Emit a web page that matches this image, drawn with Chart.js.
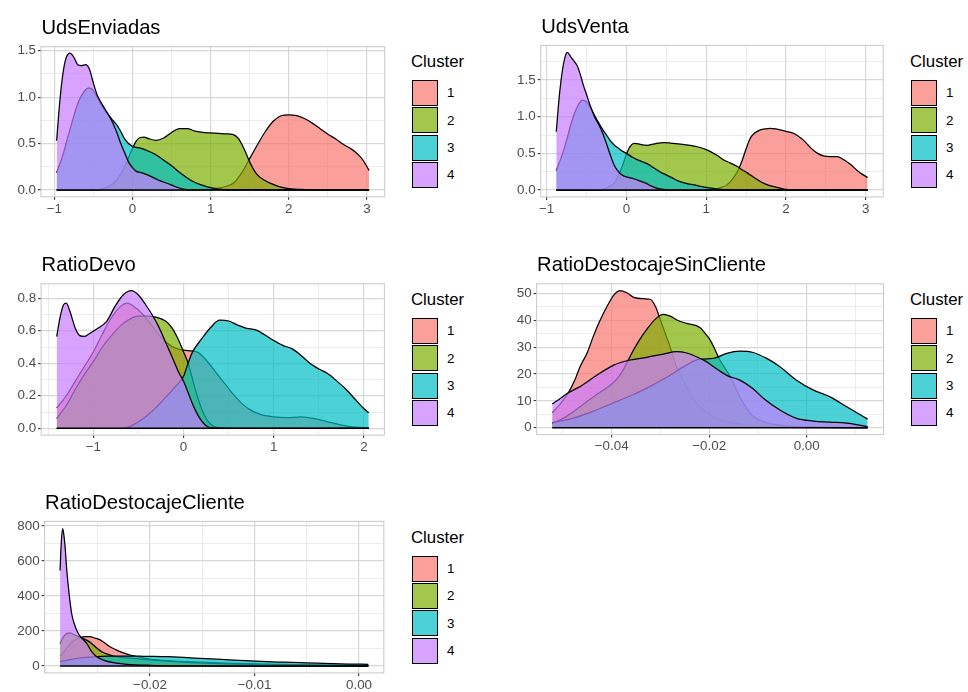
<!DOCTYPE html>
<html>
<head>
<meta charset="utf-8">
<script src="https://cdn.jsdelivr.net/npm/chart.js@4.4.0/dist/chart.umd.min.js"></script>
<style>
  body { margin: 0; background: #fff; }
  #page { position: relative; width: 968px; height: 692px; overflow: hidden; background: #fff; }
  .holder { position: absolute; }
  .txt { position: absolute; white-space: nowrap; color: #000; }
  .key { position: absolute; box-sizing: border-box; border: 1.3px solid #000; }
</style>
</head>
<body>
<div id="page"></div>
<script>
const FONT = '"Liberation Sans", Arial, sans-serif';
const TITLE_SIZE = 20.2, AXIS_SIZE = 13.4, LEG_TITLE_SIZE = 16.8, LEG_SIZE = 13.4;

const clusters = ['1', '2', '3', '4'];
const clusterFill = ['rgba(248,118,109,0.7)', 'rgba(124,174,0,0.7)', 'rgba(0,191,196,0.7)', 'rgba(199,124,255,0.7)'];

// ---- UdsEnviadas ----
const envXTicks = [-1, 0, 1, 2, 3];
const envXLabels = ['−1', '0', '1', '2', '3'];
const envXMinor = [-0.5, 0.5, 1.5, 2.5];
const envYTicks = [0, 0.5, 1, 1.5];
const envYLabels = ['0.0', '0.5', '1.0', '1.5'];
const envYMinor = [0.25, 0.75, 1.25];
const envC1 = [[-0.97,0],[0.8,0],[0.9,0.005],[1.0,0.01],[1.1,0.02],[1.2,0.04],[1.3,0.08],[1.4,0.19],[1.5,0.34],[1.6,0.49],[1.7,0.63],[1.8,0.74],[1.9,0.8],[2.0,0.81],[2.1,0.8],[2.2,0.77],[2.3,0.72],[2.4,0.66],[2.5,0.6],[2.6,0.55],[2.7,0.49],[2.8,0.44],[2.85,0.41],[2.9,0.37],[2.95,0.32],[3.0,0.25],[3.026,0.21]];
const envC2 = [[-0.97,0],[-0.5,0],[-0.4,0.01],[-0.3,0.04],[-0.2,0.11],[-0.1,0.25],[0,0.45],[0.05,0.53],[0.1,0.565],[0.15,0.57],[0.2,0.555],[0.3,0.535],[0.4,0.56],[0.5,0.62],[0.6,0.66],[0.7,0.66],[0.8,0.635],[0.9,0.62],[1.0,0.615],[1.1,0.61],[1.2,0.605],[1.28,0.6],[1.35,0.56],[1.4,0.49],[1.45,0.4],[1.5,0.3],[1.55,0.22],[1.6,0.16],[1.7,0.1],[1.8,0.06],[1.9,0.03],[2.0,0.015],[2.2,0.005],[2.5,0],[3.026,0]];
const envC3 = [[-0.97,0.186],[-0.9,0.35],[-0.8,0.65],[-0.7,0.93],[-0.6,1.08],[-0.55,1.1],[-0.5,1.07],[-0.45,1.0],[-0.4,0.92],[-0.35,0.855],[-0.3,0.8],[-0.25,0.75],[-0.2,0.7],[-0.15,0.63],[-0.1,0.55],[-0.05,0.5],[0,0.47],[0.05,0.46],[0.1,0.45],[0.2,0.42],[0.3,0.38],[0.4,0.32],[0.5,0.26],[0.6,0.19],[0.7,0.13],[0.8,0.08],[0.9,0.05],[1.0,0.025],[1.1,0.01],[1.3,0],[3.026,0]];
const envC4 = [[-0.97,0.53],[-0.93,0.95],[-0.89,1.25],[-0.85,1.42],[-0.8,1.475],[-0.75,1.43],[-0.7,1.35],[-0.65,1.34],[-0.6,1.35],[-0.55,1.3],[-0.5,1.15],[-0.45,1.02],[-0.4,0.94],[-0.35,0.87],[-0.3,0.8],[-0.25,0.72],[-0.2,0.62],[-0.15,0.5],[-0.1,0.4],[-0.05,0.3],[0,0.24],[0.05,0.2],[0.1,0.19],[0.2,0.16],[0.3,0.12],[0.35,0.1],[0.45,0.07],[0.55,0.035],[0.65,0.01],[0.8,0],[3.026,0]];

// ---- UdsVenta ----
const venXTicks = [-1, 0, 1, 2, 3];
const venXLabels = ['−1', '0', '1', '2', '3'];
const venXMinor = [-0.5, 0.5, 1.5, 2.5];
const venYTicks = [0, 0.5, 1, 1.5];
const venYLabels = ['0.0', '0.5', '1.0', '1.5'];
const venYMinor = [0.25, 0.75, 1.25, 1.75];
const venC1 = [[-0.88,0],[1.0,0],[1.1,0.01],[1.2,0.04],[1.26,0.07],[1.33,0.15],[1.4,0.27],[1.45,0.4],[1.5,0.56],[1.55,0.7],[1.6,0.77],[1.68,0.82],[1.75,0.835],[1.8,0.84],[1.87,0.835],[1.93,0.82],[2.0,0.8],[2.1,0.77],[2.16,0.73],[2.22,0.68],[2.28,0.61],[2.34,0.545],[2.4,0.5],[2.47,0.465],[2.55,0.455],[2.64,0.455],[2.7,0.43],[2.76,0.39],[2.82,0.34],[2.89,0.27],[2.95,0.22],[3.025,0.17]];
const venC2 = [[-0.88,0],[-0.4,0],[-0.3,0.01],[-0.24,0.03],[-0.15,0.1],[-0.11,0.18],[-0.05,0.33],[0,0.49],[0.05,0.6],[0.1,0.636],[0.15,0.63],[0.2,0.615],[0.26,0.61],[0.33,0.625],[0.4,0.64],[0.47,0.645],[0.55,0.64],[0.68,0.627],[0.8,0.61],[0.89,0.59],[1.0,0.55],[1.06,0.52],[1.14,0.47],[1.22,0.41],[1.3,0.37],[1.39,0.32],[1.46,0.27],[1.52,0.23],[1.6,0.17],[1.69,0.11],[1.77,0.07],[1.85,0.045],[1.93,0.025],[2.0,0.01],[2.2,0.002],[2.5,0],[3.025,0]];
const venC3 = [[-0.88,0.264],[-0.8,0.5],[-0.75,0.68],[-0.7,0.88],[-0.65,1.05],[-0.6,1.17],[-0.55,1.227],[-0.5,1.2],[-0.46,1.14],[-0.4,1.02],[-0.35,0.92],[-0.3,0.83],[-0.25,0.75],[-0.2,0.67],[-0.15,0.61],[-0.1,0.57],[-0.05,0.53],[0,0.5],[0.07,0.45],[0.14,0.41],[0.2,0.385],[0.26,0.36],[0.33,0.31],[0.39,0.27],[0.45,0.23],[0.51,0.2],[0.6,0.15],[0.68,0.11],[0.77,0.085],[0.85,0.07],[0.93,0.05],[1.0,0.036],[1.1,0.02],[1.17,0.01],[1.3,0.003],[1.5,0],[3.025,0]];
const venC4 = [[-0.88,0.795],[-0.84,1.3],[-0.8,1.65],[-0.76,1.85],[-0.74,1.877],[-0.7,1.82],[-0.66,1.76],[-0.62,1.7],[-0.58,1.58],[-0.54,1.43],[-0.5,1.3],[-0.46,1.17],[-0.4,1.0],[-0.35,0.9],[-0.3,0.78],[-0.25,0.63],[-0.2,0.47],[-0.15,0.33],[-0.1,0.25],[-0.05,0.2],[0,0.18],[0.1,0.15],[0.2,0.11],[0.25,0.09],[0.3,0.06],[0.4,0.02],[0.5,0.005],[0.6,0],[3.025,0]];

// ---- RatioDevo ----
const devXTicks = [-1, 0, 1, 2];
const devXLabels = ['−1', '0', '1', '2'];
const devXMinor = [-1.5, -0.5, 0.5, 1.5];
const devYTicks = [0, 0.2, 0.4, 0.6, 0.8];
const devYLabels = ['0.0', '0.2', '0.4', '0.6', '0.8'];
const devYMinor = [0.1, 0.3, 0.5, 0.7];
const devC1 = [[-1.406,0.125],[-1.3,0.2],[-1.2,0.29],[-1.1,0.38],[-1.0,0.47],[-0.9,0.58],[-0.8,0.68],[-0.7,0.75],[-0.62,0.77],[-0.55,0.75],[-0.45,0.7],[-0.35,0.63],[-0.25,0.56],[-0.15,0.51],[-0.05,0.485],[0.05,0.478],[0.15,0.47],[0.25,0.42],[0.35,0.35],[0.45,0.28],[0.55,0.21],[0.65,0.15],[0.75,0.11],[0.85,0.085],[1.0,0.07],[1.15,0.065],[1.3,0.07],[1.45,0.06],[1.6,0.04],[1.75,0.02],[1.9,0.007],[2.053,0.002]];
const devC2 = [[-1.406,0.06],[-1.3,0.14],[-1.2,0.24],[-1.1,0.33],[-1.0,0.41],[-0.9,0.5],[-0.8,0.57],[-0.7,0.63],[-0.6,0.67],[-0.5,0.69],[-0.4,0.69],[-0.3,0.683],[-0.2,0.66],[-0.13,0.62],[-0.07,0.56],[0,0.47],[0.05,0.4],[0.1,0.3],[0.15,0.2],[0.2,0.12],[0.25,0.06],[0.3,0.025],[0.37,0.005],[0.5,0],[2.053,0]];
const devC3 = [[-1.406,0],[-0.7,0],[-0.6,0.01],[-0.5,0.04],[-0.4,0.08],[-0.3,0.13],[-0.2,0.19],[-0.1,0.25],[0,0.32],[0.05,0.4],[0.1,0.47],[0.2,0.55],[0.3,0.62],[0.4,0.665],[0.5,0.66],[0.6,0.635],[0.7,0.615],[0.8,0.605],[0.9,0.575],[1.0,0.54],[1.1,0.51],[1.2,0.49],[1.3,0.45],[1.4,0.4],[1.5,0.365],[1.6,0.335],[1.7,0.29],[1.8,0.24],[1.9,0.18],[2.0,0.12],[2.053,0.095]];
const devC4 = [[-1.406,0.564],[-1.37,0.68],[-1.33,0.76],[-1.3,0.77],[-1.26,0.72],[-1.2,0.615],[-1.15,0.57],[-1.1,0.565],[-1.05,0.58],[-0.95,0.615],[-0.85,0.66],[-0.76,0.75],[-0.67,0.82],[-0.58,0.847],[-0.5,0.82],[-0.42,0.76],[-0.35,0.7],[-0.28,0.63],[-0.2,0.53],[-0.12,0.43],[-0.05,0.34],[0,0.29],[0.05,0.22],[0.1,0.15],[0.15,0.09],[0.2,0.045],[0.25,0.015],[0.3,0.003],[0.4,0],[2.053,0]];

// ---- RatioDestocajeSinCliente ----
const sinXTicks = [-0.04, -0.02, 0];
const sinXLabels = ['−0.04', '−0.02', '0.00'];
const sinXMinor = [-0.05, -0.03, -0.01, 0.01];
const sinYTicks = [0, 10, 20, 30, 40, 50];
const sinYLabels = ['0', '10', '20', '30', '40', '50'];
const sinYMinor = [5, 15, 25, 35, 45];
const sinC1 = [[-0.0522,5.6],[-0.0505,9],[-0.0489,13],[-0.0475,18],[-0.0465,22.7],[-0.045,28],[-0.0438,33.9],[-0.0425,39.5],[-0.041,45],[-0.0395,49.5],[-0.0383,51],[-0.037,50.3],[-0.0355,48.5],[-0.0335,48],[-0.0321,47.8],[-0.031,45],[-0.03,40],[-0.0294,37],[-0.0287,33.5],[-0.028,30],[-0.0267,22.7],[-0.0253,17.7],[-0.0239,12.8],[-0.0219,7.8],[-0.0191,4.1],[-0.0164,2.2],[-0.0123,1],[-0.0089,0.4],[-0.005,0.1],[0.0125,0]];
const sinC2 = [[-0.0522,1.5],[-0.049,4.5],[-0.046,8.5],[-0.043,12.5],[-0.0405,15.5],[-0.039,18],[-0.0378,21],[-0.0366,25.2],[-0.0355,29],[-0.0342,33],[-0.0328,36.6],[-0.031,40.5],[-0.0294,42.2],[-0.028,41.5],[-0.0265,40],[-0.0246,38.8],[-0.0219,37.3],[-0.0208,35],[-0.0198,32.6],[-0.0188,29],[-0.0178,25.2],[-0.0157,19],[-0.0137,11.5],[-0.0116,5.3],[-0.0089,2.2],[-0.0055,1],[-0.002,0.4],[0.0125,0]];
const sinC3 = [[-0.0522,1.9],[-0.048,3.5],[-0.044,6],[-0.04,9],[-0.036,12],[-0.032,15.5],[-0.028,19.5],[-0.025,23],[-0.022,25.5],[-0.0191,25.8],[-0.0164,27.7],[-0.0137,28.5],[-0.011,28],[-0.0082,25.8],[-0.0055,22.7],[-0.0021,17.7],[0.0014,14],[0.0048,11.5],[0.0082,7.8],[0.0125,3.2]];
const sinC4 = [[-0.0522,8.8],[-0.0505,11],[-0.0489,13],[-0.0465,15.3],[-0.043,19.6],[-0.0396,23.3],[-0.0362,25.2],[-0.0328,26.2],[-0.0294,27.4],[-0.0267,28.3],[-0.0246,27.8],[-0.0226,26.4],[-0.0205,24.5],[-0.0191,22.7],[-0.0164,19.5],[-0.0137,17.7],[-0.011,14.5],[-0.0089,11],[-0.0055,6.6],[-0.0021,3.5],[0.0014,2.5],[0.0048,2.1],[0.0082,1.7],[0.0125,0.4]];

// ---- RatioDestocajeCliente ----
const cliXTicks = [-0.02, -0.01, 0];
const cliXLabels = ['−0.02', '−0.01', '0.00'];
const cliXMinor = [-0.025, -0.015, -0.005];
const cliYTicks = [0, 200, 400, 600, 800];
const cliYLabels = ['0', '200', '400', '600', '800'];
const cliYMinor = [100, 300, 500, 700];
const cliC1 = [[-0.02861,58],[-0.0282,85],[-0.0278,115],[-0.0274,140],[-0.0267,162],[-0.0262,168],[-0.02574,168],[-0.0253,160],[-0.02478,149],[-0.0243,130],[-0.02383,110],[-0.02335,95],[-0.02287,82],[-0.0224,72],[-0.02191,63],[-0.02096,50],[-0.02,40],[-0.018,30],[-0.016,24],[-0.014,19],[-0.012,15],[-0.01,12],[-0.008,10],[-0.006,8],[-0.004,6],[-0.002,5],[0.00089,4]];
const cliC2 = [[-0.02861,128],[-0.0283,165],[-0.028,185],[-0.0277,190],[-0.0274,183],[-0.02695,171],[-0.0266,162],[-0.02622,152],[-0.0258,138],[-0.02542,120],[-0.0251,103],[-0.02478,88],[-0.02447,77],[-0.02415,69],[-0.02351,57],[-0.0228,50],[-0.022,45],[-0.021,40],[-0.02,35],[-0.018,27],[-0.016,20],[-0.014,15],[-0.012,11],[-0.01,8],[-0.007,5],[-0.004,3],[0.00089,1]];
const cliC3 = [[-0.02861,25],[-0.028,32],[-0.0275,38],[-0.027,44],[-0.026,50],[-0.025,54],[-0.024,56],[-0.023,57],[-0.022,57],[-0.021,56],[-0.02,55],[-0.0184,53],[-0.0168,49],[-0.0152,44],[-0.0136,39],[-0.012,34],[-0.0104,29],[-0.0088,25],[-0.0072,22],[-0.0056,19],[-0.004,16],[-0.0025,13],[-0.001,11],[0.00089,10]];
const cliC4 = [[-0.02861,545],[-0.0285,700],[-0.02836,785],[-0.02825,750],[-0.02813,682],[-0.02797,549],[-0.02775,415],[-0.0275,300],[-0.02727,244],[-0.02695,196],[-0.0267,171],[-0.02638,150],[-0.02606,130],[-0.02558,82],[-0.0251,53],[-0.02447,34],[-0.02351,19],[-0.02223,10],[-0.02,4],[-0.017,1],[-0.012,0],[0.00089,0]];

// panel boxes (plot area in page pixels) and axis limits
const panels = [
  { title: 'UdsEnviadas', box: [41, 46.7, 384.7, 196.8], xLim: [-1.17, 3.226], yLim: [-0.0735, 1.5435],
    xT: envXTicks, xL: envXLabels, xM: envXMinor, yT: envYTicks, yL: envYLabels, yM: envYMinor,
    series: [envC1, envC2, envC3, envC4], leg: [411, 68.3, 80] },
  { title: 'UdsVenta', box: [540.7, 45.4, 883.2, 196.9], xLim: [-1.075, 3.22], yLim: [-0.094, 1.972],
    xT: venXTicks, xL: venXLabels, xM: venXMinor, yT: venYTicks, yL: venYLabels, yM: venYMinor,
    series: [venC1, venC2, venC3, venC4], leg: [910, 68.3, 80] },
  { title: 'RatioDevo', box: [41.1, 283.8, 384.4, 435.1], xLim: [-1.579, 2.226], yLim: [-0.042, 0.889],
    xT: devXTicks, xL: devXLabels, xM: devXMinor, yT: devYTicks, yL: devYLabels, yM: devYMinor,
    series: [devC1, devC2, devC3, devC4], leg: [411, 306.3, 318] },
  { title: 'RatioDestocajeSinCliente', box: [536.6, 283.8, 883.5, 434.6], xLim: [-0.05541, 0.01575], yLim: [-2.55, 53.55],
    xT: sinXTicks, xL: sinXLabels, xM: sinXMinor, yT: sinYTicks, yL: sinYLabels, yM: sinYMinor,
    series: [sinC1, sinC2, sinC3, sinC4], leg: [910, 306.3, 318] },
  { title: 'RatioDestocajeCliente', box: [44.6, 521.4, 383.8, 672.9], xLim: [-0.03009, 0.00237], yLim: [-39.3, 826],
    xT: cliXTicks, xL: cliXLabels, xM: cliXMinor, yT: cliYTicks, yL: cliYLabels, yM: cliYMinor,
    series: [cliC1, cliC2, cliC3, cliC4], leg: [411, 544, 555.7] }
];

const page = document.getElementById('page');

// light grey frame round the plot area, drawn over the densities
const frame = {
  id: 'frame',
  afterDatasetsDraw(chart) {
    const a = chart.chartArea, c = chart.ctx;
    c.save();
    c.strokeStyle = '#cccccc';
    c.lineWidth = 1.1;
    c.strokeRect(a.left, a.top, a.right - a.left, a.bottom - a.top);
    c.restore();
  }
};

function text(str, left, baseline, size) {
  const d = document.createElement('div');
  d.className = 'txt';
  d.textContent = str;
  d.style.font = size + 'px ' + FONT;
  d.style.lineHeight = size + 'px';
  d.style.left = left + 'px';
  d.style.top = (baseline - 0.8465 * size) + 'px';
  page.appendChild(d);
}

function axis(lim, major, minor, labels, isX) {
  const isMajor = (ctx) => ctx.tick && major.includes(ctx.tick.value);
  return {
    type: 'linear',
    min: lim[0],
    max: lim[1],
    afterBuildTicks: (s) => { s.ticks = major.concat(minor).sort((a, b) => a - b).map(v => ({ value: v })); },
    afterFit: null,
    grid: {
      color: ctx => isMajor(ctx) ? '#d7d7d7' : '#e7e7e7',
      lineWidth: ctx => isMajor(ctx) ? 1.2 : 0.8,
      tickColor: ctx => isMajor(ctx) ? '#333333' : 'rgba(0,0,0,0)',
      tickWidth: 1.1,
      tickLength: 3,
      drawTicks: true
    },
    border: { display: false },
    ticks: {
      autoSkip: false,
      maxRotation: 0,
      minRotation: 0,
      padding: isX ? 1 : 2,
      color: '#4d4d4d',
      font: { family: FONT, size: AXIS_SIZE },
      callback: (v) => { const i = major.indexOf(v); return i < 0 ? '' : labels[i]; }
    }
  };
}

panels.forEach(p => {
  const [bl, bt, br, bb] = p.box;
  const cl = Math.floor(bl) - 46, ct = Math.floor(bt) - 10;
  const cw = Math.ceil(br) + 12 - cl, ch = Math.ceil(bb) + 28 - ct;
  const holder = document.createElement('div');
  holder.className = 'holder';
  holder.style.left = cl + 'px';
  holder.style.top = ct + 'px';
  holder.style.width = cw + 'px';
  holder.style.height = ch + 'px';
  const cv = document.createElement('canvas');
  holder.appendChild(cv);
  page.appendChild(holder);

  const xs = axis(p.xLim, p.xT, p.xM, p.xL, true);
  xs.afterFit = (s) => { s.height = ct + ch - bb; };
  const ys = axis(p.yLim, p.yT, p.yM, p.yL, false);
  ys.afterFit = (s) => { s.width = bl - cl; };

  const datasets = p.series.map((s, i) => ({
    label: clusters[i],
    data: s.map(([x, y]) => ({ x, y })),
    backgroundColor: clusterFill[i],
    borderColor: '#000',
    borderWidth: 1.25,
    fill: 'origin',
    pointRadius: 0,
    cubicInterpolationMode: 'monotone',
    order: 4 - i
  }));
  const first = p.series[0][0][0], last = p.series[0][p.series[0].length - 1][0];
  datasets.push({
    label: 'base',
    data: [{ x: first, y: 0 }, { x: last, y: 0 }],
    borderColor: '#000',
    borderWidth: 1.7,
    fill: false,
    pointRadius: 0,
    order: 0
  });

  new Chart(cv, {
    type: 'line',
    data: { datasets },
    options: {
      responsive: true,
      maintainAspectRatio: false,
      animation: false,
      events: [],
      layout: { padding: { left: 0, top: bt - ct, right: cl + cw - br, bottom: 0 } },
      plugins: { legend: { display: false }, tooltip: { enabled: false } },
      scales: { x: xs, y: ys }
    },
    plugins: [frame]
  });

  // title
  text(p.title, bl + 0.5, bt - 12.8, TITLE_SIZE);

  // legend
  const [lx, lBase, kTop] = p.leg;
  text('Cluster', lx, lBase, LEG_TITLE_SIZE);
  clusters.forEach((c, i) => {
    const k = document.createElement('div');
    k.className = 'key';
    const top = kTop + i * 27.3;
    k.style.left = (lx + 0.5) + 'px';
    k.style.top = top + 'px';
    k.style.width = '26px';
    k.style.height = '26px';
    k.style.background = clusterFill[i];
    page.appendChild(k);
    text(c, lx + 36, top + 13 + 0.358 * LEG_SIZE, LEG_SIZE);
  });
});
</script>
</body>
</html>
